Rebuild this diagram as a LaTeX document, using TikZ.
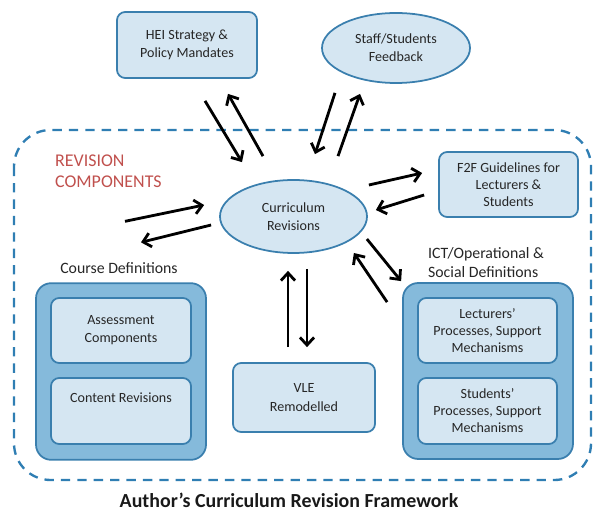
\documentclass[tikz,border=0pt]{standalone}
\usepackage{fontspec}
\setmainfont{Carlito}
\usetikzlibrary{shapes.geometric,arrows.meta}
\definecolor{edgeblue}{HTML}{3A7FAE}
\definecolor{paleblue}{HTML}{D5E6F2}
\definecolor{midblue}{HTML}{85BADB}
\definecolor{dashblue}{HTML}{2F7EB3}
\definecolor{revred}{HTML}{C0504D}
\newcommand{\bxfont}   {\fontsize{12}{14.5}\selectfont}
\newcommand{\lblfont}  {\fontsize{13.5}{16}\selectfont}

\begin{document}
\begin{tikzpicture}[x=0.03cm,y=-0.03cm,
    box/.style={draw=edgeblue,fill=paleblue,line width=1.5pt,rounded corners=7pt,
      align=center,font=\bxfont,text=black!85,minimum width=4.2cm,minimum height=1.95cm,inner sep=1pt},
    oval/.style={ellipse,draw=edgeblue,fill=paleblue,line width=1.5pt,
      align=center,font=\bxfont,text=black!85,inner sep=0pt},
    group/.style={draw=edgeblue,fill=midblue,line width=1.5pt,rounded corners=13pt,
      minimum width=5.1cm,minimum height=5.3cm},
    arr/.style={line width=2.4pt,-{Straight Barb[length=6.5pt,width=12pt]}}]
      \useasboundingbox (0,0) rectangle (593,516);
      \draw[dashblue,line width=2pt,dash pattern=on 8pt off 6pt,rounded corners=1.1cm] (14,130) rectangle (591,480);
      \node[revred,font=\fontsize{15.3}{18}\selectfont,align=left,anchor=west] (revtxt) at (51,171) {REVISION\\COMPONENTS};
      \node[box,minimum height=1.98cm,font=\fontsize{12}{15.5}\selectfont] (hei) at (187,45) {HEI Strategy \&\\Policy Mandates};
      \node[oval,minimum width=4.44cm,minimum height=2.1cm,font=\fontsize{12}{15.5}\selectfont] (staff) at (396,48) {Staff/Students\\Feedback};
      \node[oval,minimum width=4.41cm,minimum height=2.19cm,font=\fontsize{12}{15.5}\selectfont] (cur) at (293.5,216.5) {Curriculum\\Revisions};
      \node[box,minimum width=4.17cm] (f2f) at (508.5,184.5) {F2F Guidelines for\\Lecturers \&\\Students};
      \node[font=\lblfont,text=black!85] (coursetxt) at (119,268) {Course Definitions};
      \node[group] (course) at (121,371.5) {};
      \node[box,font=\fontsize{12}{15.5}\selectfont] (assess) at (121,330.5) {Assessment\\Components};
      \node[box,minimum height=1.98cm] (content) at (121,411) {Content Revisions\\[1.3ex]\mbox{}};
      \node[box,minimum width=4.26cm,minimum height=2.07cm,font=\fontsize{12}{15.5}\selectfont] (vle) at (304,397.5) {VLE\\Remodelled};
      \node[font=\lblfont,text=black!85,align=left,anchor=west] (icttxt) at (424,262.5) {ICT/Operational \&\\Social Definitions};
      \node[group,minimum height=5.28cm] (ict) at (488,371) {};
      \node[box,minimum width=4.17cm] (lect) at (487.5,330.5) {Lecturers'\\Processes, Support\\Mechanisms};
      \node[box,minimum width=4.17cm,minimum height=1.98cm] (stud) at (487.5,411) {Students'\\Processes, Support\\Mechanisms};
      \node[font=\fontsize{17}{20}\bfseries\selectfont,text=black!90] (title) at (289,500) {Author's Curriculum Revision Framework};
      \draw[arr] ([shift={(18,22)}]hei.south) -- ([shift={(-51.5,-17)}]cur.north);
      \draw[arr] ([shift={(-30.5,-23)}]cur.north) -- ([shift={(41,15)}]hei.south);
      \draw[arr] ([shift={(-61,9)}]staff.south) -- ([shift={(21.5,-25)}]cur.north);
      \draw[arr] ([shift={(44.5,-23)}]cur.north) -- ([shift={(-36,10)}]staff.south);
      \draw[arr] ([shift={(1,-31.5)}]cur.east) -- ([shift={(-16,-11.5)}]f2f.west);
      \draw[arr] ([shift={(-14,10.5)}]f2f.west) -- ([shift={(8,-6.5)}]cur.east);
      \draw[arr] ([shift={(6,-37)}]coursetxt.north) -- ([shift={(-15,-11.5)}]cur.west);
      \draw[arr] ([shift={(-8,8.5)}]cur.west) -- ([shift={(22,-16)}]coursetxt.north);
      \draw[arr] ([shift={(-16,-15)}]vle.north) -- ([shift={(-5.5,17)}]cur.south);
      \draw[arr] ([shift={(13.5,15)}]cur.south) -- ([shift={(3,-15)}]vle.north);
      \draw[arr] ([shift={(-1,22.5)}]cur.east) -- ([shift={(-1,-1)}]ict.north west);
      \draw[arr] ([shift={(-15,20)}]ict.north west) -- ([shift={(-14,36.5)}]cur.east);
\end{tikzpicture}
\end{document}
